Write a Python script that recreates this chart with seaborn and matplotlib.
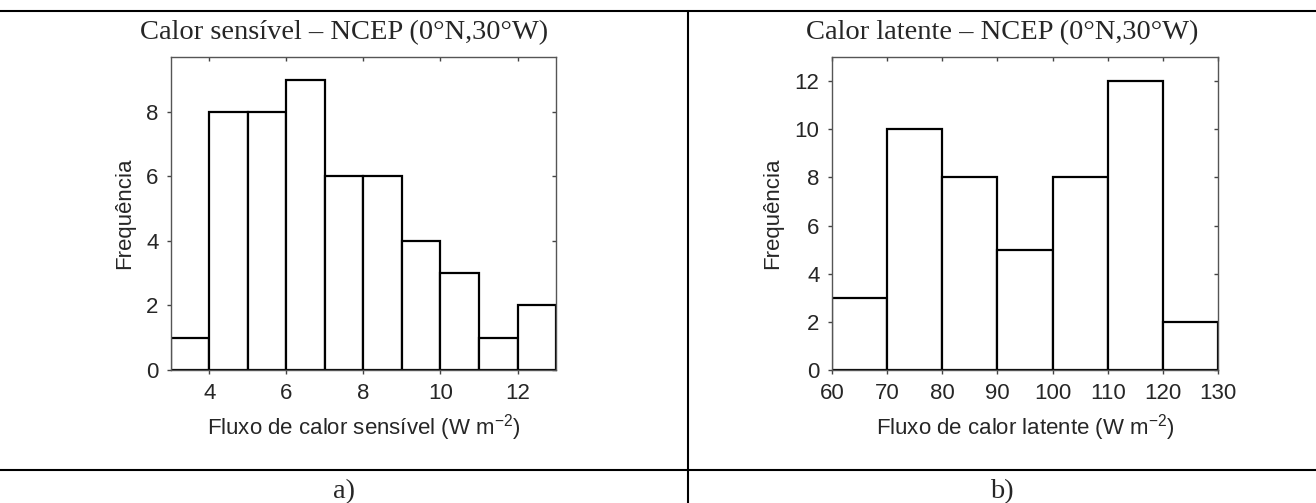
import numpy as np
import matplotlib
matplotlib.use("Agg")
import matplotlib.pyplot as plt
import seaborn as sns

# histogram a) sensible heat, bins of 1 W m-2
sens_edges = [3, 4, 5, 6, 7, 8, 9, 10, 11, 12, 13]
sens_counts = [1, 8, 8, 9, 6, 6, 4, 3, 1, 2]

# histogram b) latent heat, bins of 10 W m-2
lat_edges = [60, 70, 80, 90, 100, 110, 120, 130]
lat_counts = [3, 10, 8, 5, 8, 12, 2]

titles = ["Calor sensível – NCEP (0°N,30°W)", "Calor latente – NCEP (0°N,30°W)"]
xlabels = [r"Fluxo de calor sensível (W m$^{\mathregular{-2}}$)",
           r"Fluxo de calor latente (W m$^{\mathregular{-2}}$)"]
panel_labels = ["a)", "b)"]

sns.set_style("white")
plt.rcParams["font.family"] = ["Liberation Sans", "DejaVu Sans"]
plt.rcParams["mathtext.fontset"] = "custom"
plt.rcParams["mathtext.rm"] = "Liberation Sans"

fig = plt.figure(figsize=(13.16, 5.03), dpi=100)

ax_pos = [[0.1299, 0.2644, 0.2926, 0.6223],
          [0.6322, 0.2644, 0.2933, 0.6223]]
ylims = [(0, 9.7), (0, 13)]
xticks = [[4, 6, 8, 10, 12], [60, 70, 80, 90, 100, 110, 120, 130]]
yticks = [[0, 2, 4, 6, 8], [0, 2, 4, 6, 8, 10, 12]]

for i, (edges, counts) in enumerate([(sens_edges, sens_counts), (lat_edges, lat_counts)]):
    ax = fig.add_axes(ax_pos[i])
    centers = [(edges[k] + edges[k + 1]) / 2 for k in range(len(counts))]
    sns.histplot(x=centers, weights=counts, bins=edges, ax=ax,
                 color="white", edgecolor="black", linewidth=1.6, alpha=1)
    ax.set_xlim(edges[0], edges[-1])
    ax.set_ylim(*ylims[i])
    ax.set_xticks(xticks[i])
    ax.set_yticks(yticks[i])
    ax.set_xlabel(xlabels[i], fontsize=16, labelpad=6)
    ax.set_ylabel("Frequência", fontsize=16, labelpad=8)
    ax.tick_params(axis="both", which="both", labelsize=16, direction="out",
                   length=3, width=1, color="#444444", pad=6,
                   bottom=True, left=True)
    ax.tick_params(top=True, right=True, labeltop=False, labelright=False)
    # top / right ticks point inward
    for t in ax.xaxis.get_major_ticks():
        t.tick2line.set_marker(3)
        t.tick2line.set_markersize(3)
    for t in ax.yaxis.get_major_ticks():
        t.tick2line.set_marker(0)
        t.tick2line.set_markersize(3)
    for s in ax.spines.values():
        s.set_color("#555555")
        s.set_linewidth(1.0)

    # panel title and label centred in their table cell
    cx = 0.2614 if i == 0 else 0.7614
    fig.text(cx, 0.936, titles[i], ha="center", va="center",
             fontsize=20.5, family=["Liberation Serif", "DejaVu Serif"])
    fig.text(cx, 0.022, panel_labels[i], ha="center", va="center",
             fontsize=20.5, family=["Liberation Serif", "DejaVu Serif"])

# table rules
line_kw = dict(color="black", linewidth=1.5, transform=fig.transFigure)
fig.add_artist(plt.Line2D([0, 1], [0.978, 0.978], **line_kw))
fig.add_artist(plt.Line2D([0, 1], [0.0656, 0.0656], **line_kw))
fig.add_artist(plt.Line2D([0.5228, 0.5228], [0, 0.978], **line_kw))

fig.savefig("out.png", dpi=100, facecolor="white")
